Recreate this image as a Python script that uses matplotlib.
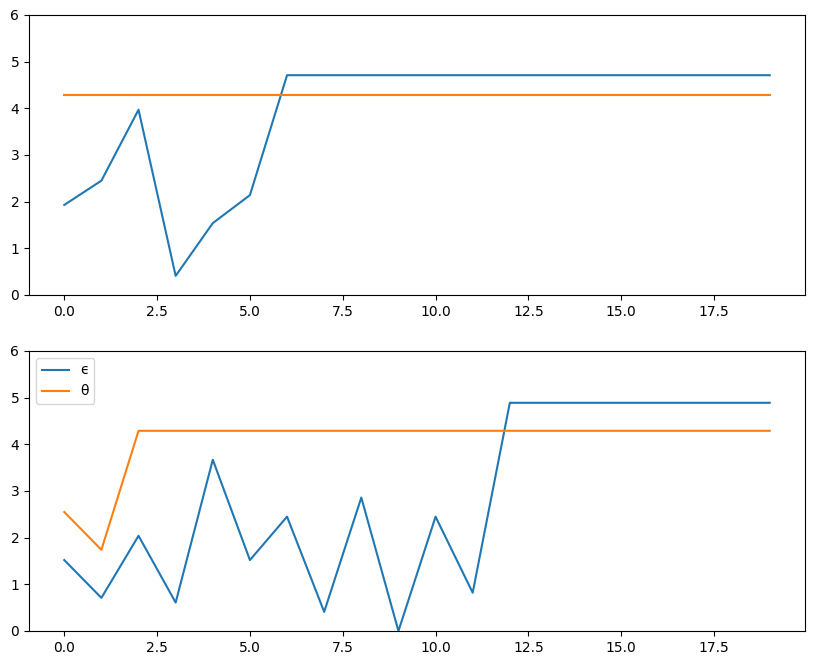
import matplotlib
matplotlib.use("Agg")
import matplotlib.pyplot as plt
import numpy as np

# 数据
steps = np.arange(20)
top_eps = [1.93, 2.45, 3.97, 0.41, 1.54, 2.14] + [4.71] * 14
top_theta = [4.29] * 20
bot_eps = [1.52, 0.71, 2.04, 0.61, 3.67, 1.52, 2.45, 0.41, 2.86, 0.0,
           2.45, 0.82] + [4.89] * 8
bot_theta = [2.55, 1.74] + [4.29] * 18

fig, (ax1, ax2) = plt.subplots(2, 1, figsize=(8.13, 6.65), dpi=100)
fig.subplots_adjust(left=29 / 813, right=805 / 813, top=1 - 15 / 665,
                    bottom=1 - 631 / 665, hspace=0.2)

ax1.plot(steps, top_eps, label="ϵ")
ax1.plot(steps, top_theta, label="θ")
ax1.set_ylim(0, 6)

ax2.plot(steps, bot_eps, label="ϵ")
ax2.plot(steps, bot_theta, label="θ")
ax2.set_ylim(0, 6)
ax2.legend(loc="upper left")

fig.savefig("out.png", dpi=100)
